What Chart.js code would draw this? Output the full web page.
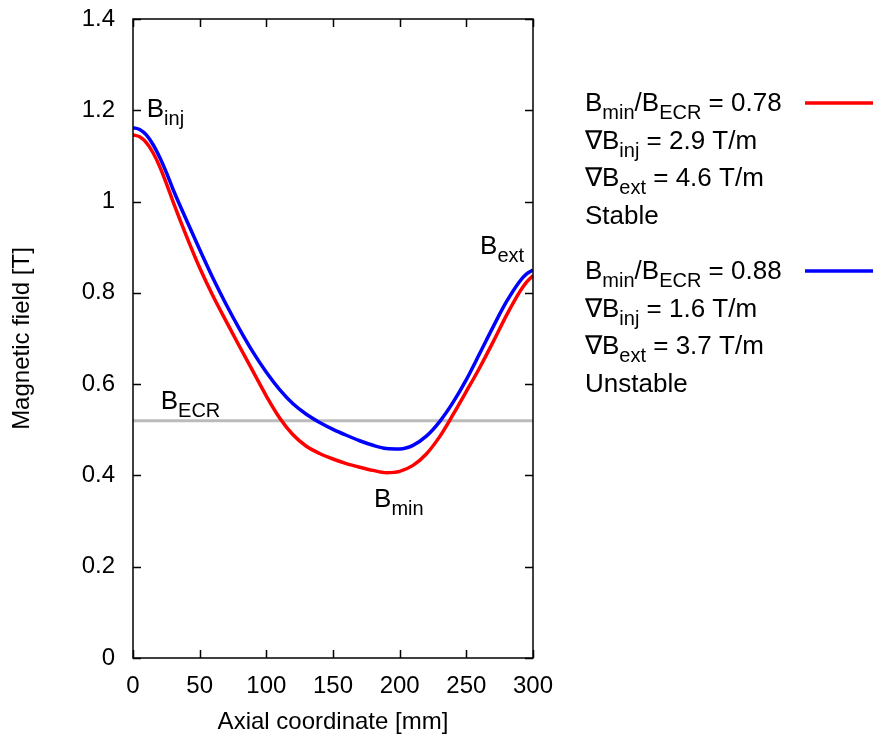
<!DOCTYPE html>
<html>
<head>
<meta charset="utf-8">
<script src="https://cdn.jsdelivr.net/npm/chart.js@4.4.1/dist/chart.umd.min.js"></script>
<style>
  html, body { margin: 0; padding: 0; background: #fff; }
  #wrap { width: 873px; height: 740px; position: relative; }
</style>
</head>
<body>
<div id="wrap"><canvas id="c" width="873" height="740"></canvas></div>
<script>
// ---- data ----
const axialPositions = [0, 5, 10, 15, 20, 25, 30, 40, 50, 60, 70, 80, 90, 100, 110, 120, 130, 140, 150, 160, 170, 180, 190, 200, 210, 220, 230, 240, 250, 260, 270, 280, 290, 295, 300];
const stableField =   [1.146, 1.142, 1.129, 1.107, 1.077, 1.040, 1.000, 0.925, 0.855, 0.793, 0.737, 0.682, 0.628, 0.574, 0.526, 0.489, 0.464, 0.448, 0.436, 0.426, 0.418, 0.411, 0.406, 0.409, 0.422, 0.447, 0.485, 0.533, 0.584, 0.636, 0.692, 0.750, 0.802, 0.823, 0.838];
const unstableField = [1.162, 1.158, 1.146, 1.125, 1.097, 1.064, 1.027, 0.960, 0.895, 0.832, 0.774, 0.720, 0.670, 0.626, 0.588, 0.557, 0.534, 0.516, 0.501, 0.488, 0.476, 0.466, 0.459, 0.458, 0.466, 0.486, 0.518, 0.560, 0.610, 0.667, 0.725, 0.780, 0.825, 0.841, 0.850];
const ecrLevel = 0.52;
const ecrRange = [0, 300];
const xTicks = [0, 50, 100, 150, 200, 250, 300];
const yTicks = [0, 0.2, 0.4, 0.6, 0.8, 1, 1.2, 1.4];

const FONT = "'Liberation Sans', Arial, Helvetica, sans-serif";

function pts(xs, ys) { return xs.map((x, i) => ({x: x, y: ys[i]})); }

function drawRich(ctx, parts, x, y, size, subSize) {
  let cx = x;
  ctx.textBaseline = 'alphabetic';
  ctx.textAlign = 'left';
  for (const [t, sub] of parts) {
    ctx.font = (sub ? subSize : size) + 'px ' + FONT;
    ctx.fillText(t, cx, sub ? y + Math.round(size * 0.3) : y);
    cx += ctx.measureText(t).width;
  }
}

const decor = {
  id: 'decor',
  afterDatasetsDraw(chart) {
    const ctx = chart.ctx;
    const xs = chart.scales.x, ys = chart.scales.y;
    const a = chart.chartArea;
    ctx.save();
    ctx.strokeStyle = '#000';
    ctx.lineWidth = 1.5;
    ctx.strokeRect(a.left, a.top, a.right - a.left, a.bottom - a.top);
    const tl = 8;
    ctx.beginPath();
    xTicks.forEach(v => {
      const px = Math.round(xs.getPixelForValue(v)) + 0.5;
      ctx.moveTo(px, a.bottom); ctx.lineTo(px, a.bottom - tl);
      ctx.moveTo(px, a.top); ctx.lineTo(px, a.top + tl);
    });
    yTicks.forEach(v => {
      const py = Math.round(ys.getPixelForValue(v)) + 0.5;
      ctx.moveTo(a.left, py); ctx.lineTo(a.left + tl, py);
      ctx.moveTo(a.right, py); ctx.lineTo(a.right - tl, py);
    });
    ctx.stroke();

    ctx.fillStyle = '#000';
    const S = 26, s = 20;
    drawRich(ctx, [['B', false], ['inj', true]], xs.getPixelForValue(10.3), ys.getPixelForValue(1.185), S, s);
    drawRich(ctx, [['B', false], ['ext', true]], xs.getPixelForValue(260.3), ys.getPixelForValue(0.885), S, s);
    drawRich(ctx, [['B', false], ['ECR', true]], xs.getPixelForValue(20.8), ys.getPixelForValue(0.545), S, s);
    drawRich(ctx, [['B', false], ['min', true]], xs.getPixelForValue(180.8), ys.getPixelForValue(0.33), S, s);

    const lx = 585;
    const block1 = [
      [['B', false], ['min', true], ['/B', false], ['ECR', true], [' = 0.78', false]],
      [['\u2207B', false], ['inj', true], [' = 2.9 T/m', false]],
      [['\u2207B', false], ['ext', true], [' = 4.6 T/m', false]],
      [['Stable', false]]
    ];
    const block2 = [
      [['B', false], ['min', true], ['/B', false], ['ECR', true], [' = 0.88', false]],
      [['\u2207B', false], ['inj', true], [' = 1.6 T/m', false]],
      [['\u2207B', false], ['ext', true], [' = 3.7 T/m', false]],
      [['Unstable', false]]
    ];
    const b1 = [111, 149, 186, 224];
    const b2 = [279, 317, 354, 392];
    block1.forEach((p, i) => drawRich(ctx, p, lx, b1[i], S, s));
    block2.forEach((p, i) => drawRich(ctx, p, lx, b2[i], S, s));
    ctx.lineWidth = 3.5;
    ctx.strokeStyle = '#ff0000';
    ctx.beginPath(); ctx.moveTo(805, 103); ctx.lineTo(873, 103); ctx.stroke();
    ctx.strokeStyle = '#0000ff';
    ctx.beginPath(); ctx.moveTo(805, 271); ctx.lineTo(873, 271); ctx.stroke();
    ctx.restore();
  }
};

new Chart(document.getElementById('c'), {
  type: 'line',
  data: {
    datasets: [
      {
        label: 'Stable',
        data: pts(axialPositions, stableField),
        borderColor: '#ff0000',
        borderWidth: 3.5,
        pointRadius: 0,
        fill: false,
        cubicInterpolationMode: 'monotone'
      },
      {
        label: 'Unstable',
        data: pts(axialPositions, unstableField),
        borderColor: '#0000ff',
        borderWidth: 3.5,
        pointRadius: 0,
        fill: false,
        cubicInterpolationMode: 'monotone'
      },
      {
        label: 'B_ECR',
        data: pts(ecrRange, [ecrLevel, ecrLevel]),
        borderColor: '#bbbbbb',
        borderWidth: 3,
        pointRadius: 0,
        fill: false
      }
    ]
  },
  options: {
    responsive: false,
    animation: false,
    devicePixelRatio: 1,
    layout: { padding: { left: 0, right: 340, top: 19, bottom: 0 } },
    plugins: { legend: { display: false }, tooltip: { enabled: false } },
    scales: {
      x: {
        type: 'linear',
        min: 0, max: 300,
        afterFit(scale) { scale.height = 82; scale.paddingLeft = 0; scale.paddingRight = 0; },
        afterBuildTicks(scale) { scale.ticks = xTicks.map(v => ({value: v})); },
        grid: { display: false, drawTicks: false },
        border: { display: false },
        ticks: { color: '#000', font: { family: FONT, size: 24 }, padding: 14, maxRotation: 0,
                 callback: v => String(v) },
        title: { display: true, text: 'Axial coordinate [mm]', color: '#000',
                 font: { family: FONT, size: 24 }, padding: { top: 0, bottom: 3 } }
      },
      y: {
        type: 'linear',
        min: 0, max: 1.4,
        afterFit(scale) { scale.width = 133; scale.paddingTop = 0; scale.paddingBottom = 0; },
        afterBuildTicks(scale) { scale.ticks = yTicks.map(v => ({value: v})); },
        grid: { display: false, drawTicks: false },
        border: { display: false },
        ticks: { color: '#000', font: { family: FONT, size: 24 }, padding: 18,
                 callback: v => String(Math.round(v * 10) / 10) },
        title: { display: true, text: 'Magnetic field [T]', color: '#000',
                 font: { family: FONT, size: 24 }, padding: { top: 8, bottom: 0 } }
      }
    }
  },
  plugins: [decor]
});
</script>
</body>
</html>
